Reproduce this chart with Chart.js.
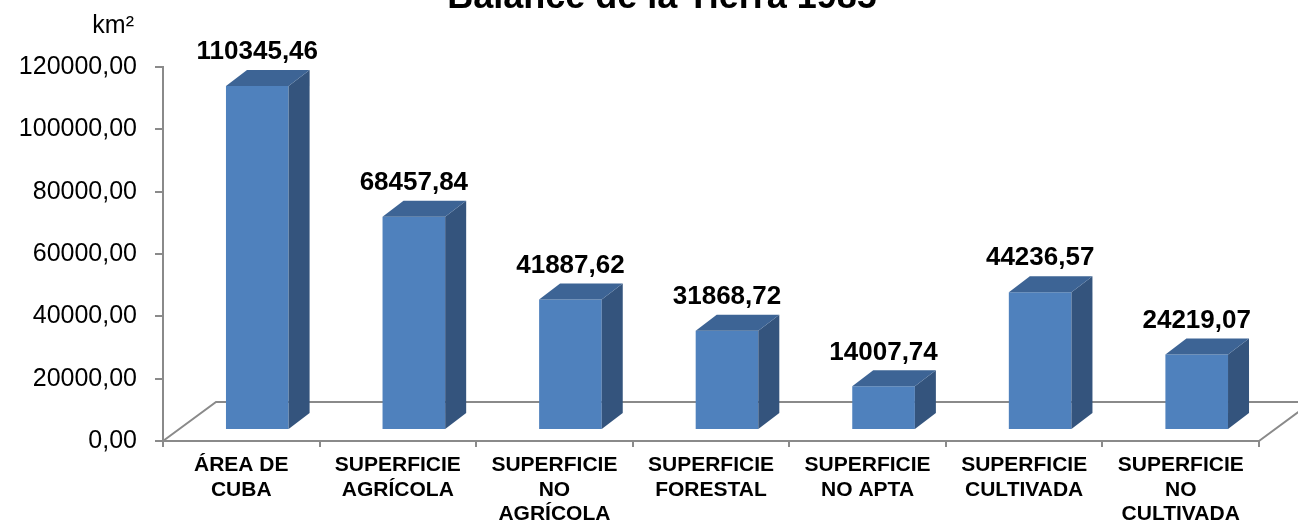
<!DOCTYPE html>
<html><head><meta charset="utf-8">
<script src="https://cdn.jsdelivr.net/npm/chart.js@4"></script>
<style>html,body{margin:0;padding:0;background:#fff}canvas{display:block}</style>
</head><body>
<canvas id="c" width="1298" height="524"></canvas>
<script>
const chartTitle = 'Balance de la Tierra 1985';
const unitLabel = 'km²';
const categories = [
  ['ÁREA DE', 'CUBA'],
  ['SUPERFICIE', 'AGRÍCOLA'],
  ['SUPERFICIE', 'NO', 'AGRÍCOLA'],
  ['SUPERFICIE', 'FORESTAL'],
  ['SUPERFICIE', 'NO APTA'],
  ['SUPERFICIE', 'CULTIVADA'],
  ['SUPERFICIE', 'NO', 'CULTIVADA']
];
const areaValues = [110345.46, 68457.84, 41887.62, 31868.72, 14007.74, 44236.57, 24219.07];
const yMin = 0, yMax = 120000, yStep = 20000;

const FONT = '"Liberation Sans", Arial, Helvetica, sans-serif';
const AXIS_COLOR = '#8a8a8a';
const FRONT = '#4F81BD', TOP = '#3D6495', SIDE = '#34547D';
const FLOOR_DX = 53, FLOOR_DY = -39;
const SHIFT_X = 16, SHIFT_Y = -11;
const DEPTH_X = 21, DEPTH_Y = -16;

const fmt = v => v.toFixed(2).replace('.', ',');

const plugin3d = {
  id: 'bars3d',
  beforeDatasetsDraw(chart) {
    const {ctx, chartArea: a} = chart;
    ctx.save();
    ctx.strokeStyle = AXIS_COLOR;
    ctx.lineWidth = 2;
    ctx.beginPath();
    ctx.moveTo(a.left, a.bottom);
    ctx.lineTo(a.left + FLOOR_DX, a.bottom + FLOOR_DY);
    ctx.lineTo(a.right + FLOOR_DX, a.bottom + FLOOR_DY);
    ctx.lineTo(a.right, a.bottom);
    ctx.stroke();
    ctx.restore();
    ctx.save();
    ctx.translate(SHIFT_X, SHIFT_Y);
  },
  afterDatasetsDraw(chart) {
    const {ctx} = chart;
    const meta = chart.getDatasetMeta(0);
    meta.data.forEach((bar, i) => {
      const w = bar.width, l = bar.x - w / 2, r = bar.x + w / 2, t = bar.y, b = bar.base;
      ctx.fillStyle = SIDE;
      ctx.beginPath();
      ctx.moveTo(r, t); ctx.lineTo(r + DEPTH_X, t + DEPTH_Y);
      ctx.lineTo(r + DEPTH_X, b + DEPTH_Y); ctx.lineTo(r, b);
      ctx.closePath(); ctx.fill();
      ctx.fillStyle = TOP;
      ctx.beginPath();
      ctx.moveTo(l, t); ctx.lineTo(l + DEPTH_X, t + DEPTH_Y);
      ctx.lineTo(r + DEPTH_X, t + DEPTH_Y); ctx.lineTo(r, t);
      ctx.closePath(); ctx.fill();
      ctx.fillStyle = '#000';
      ctx.font = 'bold 26px ' + FONT;
      ctx.textAlign = 'center';
      ctx.textBaseline = 'middle';
      ctx.fillText(fmt(areaValues[i]), bar.x, t - 34);
    });
    ctx.restore();
  },
  afterDraw(chart) {
    const {ctx} = chart;
    ctx.save();
    ctx.fillStyle = '#000';
    ctx.font = 'bold 36px ' + FONT;
    ctx.textAlign = 'center';
    ctx.textBaseline = 'alphabetic';
    ctx.fillText(chartTitle, 662, 8);
    ctx.font = '25px ' + FONT;
    ctx.textAlign = 'right';
    ctx.textBaseline = 'middle';
    ctx.fillText(unitLabel, 134, 26);
    ctx.restore();
  }
};

new Chart(document.getElementById('c'), {
  type: 'bar',
  data: {
    labels: categories,
    datasets: [{
      data: areaValues,
      backgroundColor: FRONT,
      borderWidth: 0,
      barPercentage: 0.4,
      categoryPercentage: 1,
      clip: false
    }]
  },
  options: {
    responsive: false,
    animation: false,
    devicePixelRatio: 1,
    layout: {padding: {top: 67, right: 39, left: 0, bottom: 0}},
    plugins: {legend: {display: false}, tooltip: {enabled: false}, title: {display: false}},
    scales: {
      x: {
        offset: true,
        grid: {offset: true, drawOnChartArea: false, drawTicks: true, tickLength: 6, color: AXIS_COLOR, lineWidth: 2},
        border: {color: AXIS_COLOR, width: 2},
        ticks: {color: '#000', font: {family: FONT, size: 21, weight: 'bold', lineHeight: 1.17}, padding: 6, maxRotation: 0, autoSkip: false},
        afterFit(s) { s.height = 83; }
      },
      y: {
        min: yMin, max: yMax,
        ticks: {stepSize: yStep, color: '#000', font: {family: FONT, size: 25}, padding: 18, callback: v => fmt(v)},
        grid: {drawOnChartArea: false, drawTicks: true, tickLength: 8, color: AXIS_COLOR, lineWidth: 2},
        border: {color: AXIS_COLOR, width: 2},
        afterFit(s) { s.width = 163; }
      }
    }
  },
  plugins: [plugin3d]
});
</script>
</body></html>
